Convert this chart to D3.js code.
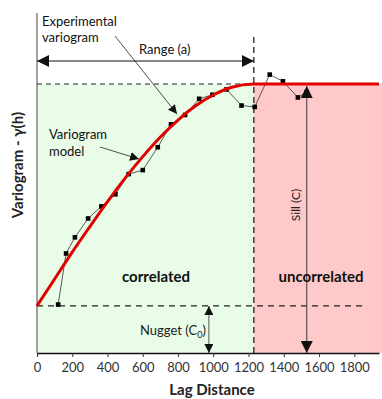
<!DOCTYPE html>
<html>
<head>
<meta charset="utf-8">
<script src="https://cdn.jsdelivr.net/npm/d3@7"></script>
<style>
  body { margin: 0; background: #fff; }
  svg { display: block; font-family: Lato, "Open Sans", sans-serif; }
</style>
</head>
<body>
<div id="chart"></div>
<script>
// lag ticks on the x axis
const lagTicks = [0, 200, 400, 600, 800, 1000, 1200, 1400, 1600, 1800];

// experimental variogram (black squares)
const expLag = [120, 165, 215, 290, 365, 445, 520, 600, 685, 760, 840, 920, 995, 1075, 1160, 1235, 1320, 1395, 1480, 1530];
const expGamma = [0.18, 0.37, 0.43, 0.50, 0.545, 0.59, 0.665, 0.68, 0.765, 0.85, 0.885, 0.945, 0.96, 0.98, 0.92, 0.915, 1.035, 1.01, 0.95, 0.97];

// variogram model (red curve)
const modelLag = [0, 100, 200, 300, 400, 500, 600, 700, 800, 900, 1000, 1100, 1230, 1940];
const modelGamma = [0.175, 0.275, 0.375, 0.47, 0.563, 0.65, 0.73, 0.803, 0.866, 0.919, 0.959, 0.987, 1.0, 1.0];

const nugget = 0.175,
      sill = 1.0,
      range = 1230;

const width = 382,
      height = 399,
      margin = {top: 13, right: 3, bottom: 46, left: 37};

const svg = d3.select("#chart")
  .append("svg")
  .attr("width", width)
  .attr("height", height);

const x = d3.scaleLinear().domain([0, 1940]).range([margin.left, width - margin.right]);
const y = d3.scaleLinear().domain([0, 1.264]).range([height - margin.bottom, margin.top]);

const defs = svg.append("defs");
defs.append("marker")
  .attr("id", "arr")
  .attr("viewBox", "0 0 10 10")
  .attr("refX", 10).attr("refY", 5)
  .attr("markerWidth", 9).attr("markerHeight", 9)
  .attr("markerUnits", "userSpaceOnUse")
  .attr("orient", "auto-start-reverse")
  .append("path")
  .attr("d", "M0,0 L10,5 L0,10 z")
  .attr("fill", "#111");
defs.append("marker")
  .attr("id", "arrBig")
  .attr("viewBox", "0 0 10 10")
  .attr("refX", 10).attr("refY", 5)
  .attr("markerWidth", 12).attr("markerHeight", 12)
  .attr("markerUnits", "userSpaceOnUse")
  .attr("orient", "auto-start-reverse")
  .append("path")
  .attr("d", "M0,0 L10,5 L0,10 z")
  .attr("fill", "#111");

// background regions
svg.append("rect")
  .attr("x", x(0)).attr("y", y(sill))
  .attr("width", x(range) - x(0)).attr("height", y(0) - y(sill))
  .attr("fill", "#e8fce8");
svg.append("rect")
  .attr("x", x(range)).attr("y", y(sill))
  .attr("width", width - x(range)).attr("height", y(0) - y(sill))
  .attr("fill", "#ffc9c9");

// dashed helpers
svg.append("line")
  .attr("x1", x(0)).attr("x2", x(range))
  .attr("y1", y(sill)).attr("y2", y(sill))
  .attr("stroke", "#222").attr("stroke-width", 1.2).attr("stroke-dasharray", "5,4");
svg.append("line")
  .attr("x1", x(0)).attr("x2", x(1850))
  .attr("y1", y(nugget)).attr("y2", y(nugget))
  .attr("stroke", "#222").attr("stroke-width", 1.2).attr("stroke-dasharray", "6,5");
svg.append("line")
  .attr("x1", x(range)).attr("x2", x(range))
  .attr("y1", 37).attr("y2", y(0))
  .attr("stroke", "#222").attr("stroke-width", 1.3).attr("stroke-dasharray", "6,4");

// axes
const xAxis = svg.append("g")
  .attr("transform", `translate(0,${y(0)})`)
  .call(d3.axisBottom(x).tickValues(lagTicks).tickFormat(d3.format("d"))
    .tickSize(4).tickSizeOuter(0).tickPadding(6));
xAxis.select(".domain").attr("stroke", "#111").attr("stroke-width", 1.5);
xAxis.selectAll(".tick line").attr("stroke", "#333");
xAxis.selectAll(".tick text")
  .attr("font-size", 13).attr("fill", "#333")
  .style("font-family", "Lato, sans-serif");

svg.append("line")
  .attr("x1", x(0)).attr("x2", x(0))
  .attr("y1", y.range()[1]).attr("y2", y(0))
  .attr("stroke", "#444").attr("stroke-width", 1);

// experimental variogram
const expPts = expLag.map((d, i) => [d, expGamma[i]]);
svg.append("path")
  .datum(expPts)
  .attr("fill", "none")
  .attr("stroke", "#333")
  .attr("stroke-width", 0.8)
  .attr("d", d3.line().x(d => x(d[0])).y(d => y(d[1])));
svg.selectAll("rect.pt")
  .data(expPts)
  .enter()
  .append("rect")
  .attr("class", "pt")
  .attr("x", d => x(d[0]) - 2.3).attr("y", d => y(d[1]) - 2.3)
  .attr("width", 4.6).attr("height", 4.6)
  .attr("fill", "#000");

// variogram model
const modelPts = modelLag.map((d, i) => [d, modelGamma[i]]);
svg.append("path")
  .datum(modelPts)
  .attr("fill", "none")
  .attr("stroke", "#e00000")
  .attr("stroke-width", 3)
  .attr("d", d3.line().curve(d3.curveMonotoneX).x(d => x(d[0])).y(d => y(d[1])));

// range arrow
svg.append("line")
  .attr("x1", x(0)).attr("x2", x(range))
  .attr("y1", 61).attr("y2", 61)
  .attr("stroke", "#111").attr("stroke-width", 1)
  .attr("marker-start", "url(#arrBig)").attr("marker-end", "url(#arrBig)");
svg.append("text")
  .attr("x", 139).attr("y", 54)
  .attr("font-size", 13).attr("fill", "#111")
  .text("Range (a)");

// sill arrow
svg.append("line")
  .attr("x1", x(1530)).attr("x2", x(1530))
  .attr("y1", y(sill) + 2).attr("y2", y(0))
  .attr("stroke", "#555").attr("stroke-width", 1.2)
  .attr("marker-start", "url(#arrBig)").attr("marker-end", "url(#arrBig)");
svg.append("text")
  .attr("transform", `translate(${x(1530) - 7},205) rotate(-90)`)
  .attr("text-anchor", "middle")
  .attr("font-size", 12).attr("fill", "#222")
  .text("Sill (C)");

// nugget arrow
svg.append("line")
  .attr("x1", x(975)).attr("x2", x(975))
  .attr("y1", y(nugget)).attr("y2", y(0))
  .attr("stroke", "#555").attr("stroke-width", 1)
  .attr("marker-start", "url(#arr)").attr("marker-end", "url(#arr)");
const nugText = svg.append("text")
  .attr("x", 140).attr("y", 335)
  .attr("font-size", 13).attr("fill", "#222");
nugText.append("tspan").text("Nugget (C");
nugText.append("tspan").attr("font-size", 9).attr("dy", 3).text("0");
nugText.append("tspan").attr("dy", -3).text(")");

// annotations
const expText = svg.append("text").attr("font-size", 13).attr("fill", "#111");
expText.append("tspan").attr("x", 42).attr("y", 26).text("Experimental");
expText.append("tspan").attr("x", 42).attr("y", 42).text("variogram");
svg.append("line")
  .attr("x1", 115).attr("y1", 36).attr("x2", 177).attr("y2", 114)
  .attr("stroke", "#222").attr("stroke-width", 0.8)
  .attr("marker-end", "url(#arr)");

const modText = svg.append("text").attr("font-size", 13).attr("fill", "#111");
modText.append("tspan").attr("x", 49).attr("y", 139).text("Variogram");
modText.append("tspan").attr("x", 49).attr("y", 156).text("model");
svg.append("line")
  .attr("x1", 100).attr("y1", 147).attr("x2", 139).attr("y2", 159)
  .attr("stroke", "#222").attr("stroke-width", 0.8)
  .attr("marker-end", "url(#arr)");

svg.append("text")
  .attr("x", 156).attr("y", 282)
  .attr("text-anchor", "middle")
  .attr("font-size", 15).attr("font-weight", "bold").attr("fill", "#111")
  .text("correlated");
svg.append("text")
  .attr("x", 321).attr("y", 282)
  .attr("text-anchor", "middle")
  .attr("font-size", 15).attr("font-weight", "bold").attr("fill", "#111")
  .text("uncorrelated");

// axis titles
svg.append("text")
  .attr("x", 212).attr("y", 395)
  .attr("text-anchor", "middle")
  .attr("font-size", 15).attr("font-weight", "bold").attr("fill", "#222")
  .text("Lag Distance");
svg.append("text")
  .attr("transform", "translate(23,165) rotate(-90)")
  .attr("text-anchor", "middle")
  .attr("font-size", 15).attr("font-weight", "bold").attr("fill", "#222")
  .text("Variogram - γ(h)");
</script>
</body>
</html>
